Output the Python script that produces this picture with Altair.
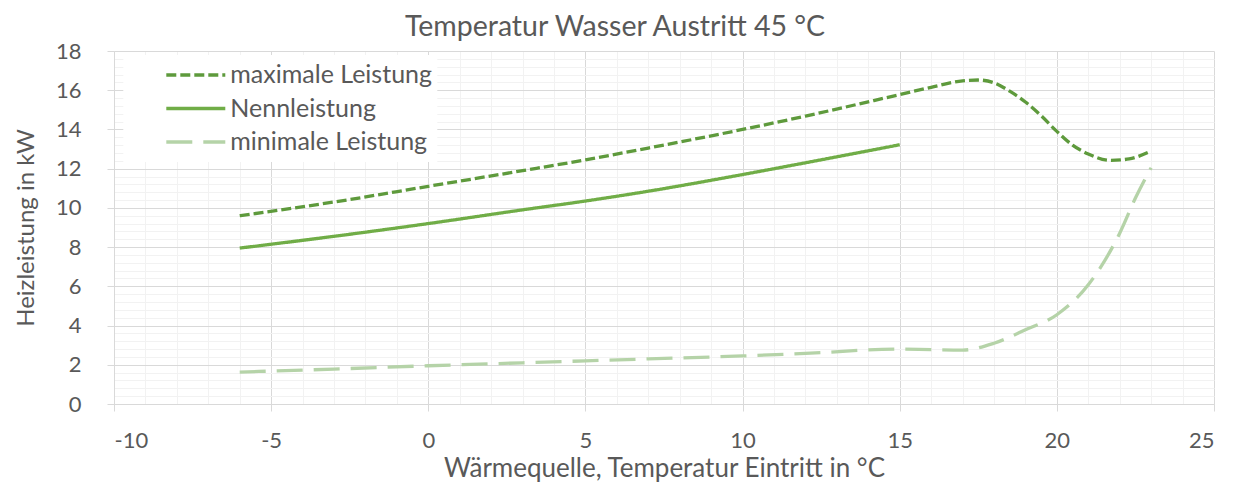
import altair as alt
import pandas as pd

# ---- data ----
max_x = [-6, -3, 0, 3, 5, 7, 10, 12, 15, 16, 17, 17.5, 18, 18.5, 19, 19.5, 20, 20.5, 21, 21.7, 22.3, 23]
max_y = [9.6, 10.3, 11.1, 11.9, 12.45, 13.05, 14.0, 14.68, 15.78, 16.15, 16.48, 16.52, 16.38, 15.95, 15.4, 14.7, 13.9, 13.2, 12.75, 12.42, 12.5, 12.9]

nenn_x = [-6, -3, 0, 3, 5, 7, 10, 12, 15]
nenn_y = [7.95, 8.55, 9.2, 9.9, 10.35, 10.85, 11.7, 12.3, 13.22]

min_x = [-6, -3, 0, 3, 5, 7, 10, 12, 15, 16, 17, 18, 19, 20, 21, 22, 22.5, 23]
min_y = [1.63, 1.78, 1.95, 2.1, 2.2, 2.3, 2.45, 2.58, 2.8, 2.77, 2.75, 3.1, 3.78, 4.55, 6.08, 8.71, 10.5, 12.05]

series_names = ["maximale Leistung", "Nennleistung", "minimale Leistung"]
series_colors = ["#5E9A3C", "#70AD47", "#B5D3A8"]
series_dash = [[10, 4], [1, 0], [26, 11]]

x_ticks = [-10, -5, 0, 5, 10, 15, 20, 25]
y_ticks = [0, 2, 4, 6, 8, 10, 12, 14, 16, 18]
x_minor = list(range(-10, 26))
y_minor = [round(i * 0.4, 1) for i in range(0, 46)]

title_text = "Temperatur Wasser Austritt 45 °C"
x_title = "Wärmequelle, Temperatur Eintritt in °C"
y_title = "Heizleistung in kW"

rows = []
for name, xs, ys in zip(series_names, [max_x, nenn_x, min_x], [max_y, nenn_y, min_y]):
    for xv, yv in zip(xs, ys):
        rows.append({"x": xv, "y": yv, "series": name})
df = pd.DataFrame(rows)

FONT = "Lato"
TXT = "#595959"
xscale = alt.Scale(domain=[-10, 25], nice=False, zero=False)
yscale = alt.Scale(domain=[0, 18], nice=False)

minor = alt.Chart(df).mark_line(opacity=0).encode(
    x=alt.X("x:Q", scale=xscale, axis=alt.Axis(
        orient="bottom", values=x_minor, grid=True, gridColor="#F2F2F2", gridWidth=1,
        labels=False, ticks=False, domain=False, title=None)),
    y=alt.Y("y:Q", scale=yscale, axis=alt.Axis(
        orient="left", values=y_minor, grid=True, gridColor="#F2F2F2", gridWidth=1,
        labels=False, ticks=False, domain=False, title=None)),
)

lines = alt.Chart(df).mark_line(strokeWidth=3.3, interpolate="monotone").encode(
    x=alt.X("x:Q", scale=xscale, axis=alt.Axis(
        orient="bottom", values=x_ticks, grid=True, gridColor="#D9D9D9",
        domainColor="#D9D9D9", tickColor="#D9D9D9", tickSize=7,
        labelExpr="toString(datum.value)",
        labelFont=FONT, labelFontSize=22, labelColor=TXT, labelPadding=19,
        title=x_title, titleFont=FONT, titleFontSize=26, titleColor=TXT,
        titleFontWeight="normal", titlePadding=4)),
    y=alt.Y("y:Q", scale=yscale, axis=alt.Axis(
        orient="left", values=y_ticks, grid=True, gridColor="#D9D9D9",
        domainColor="#D9D9D9", tickColor="#D9D9D9", tickSize=7,
        labelFont=FONT, labelFontSize=22, labelColor=TXT, labelPadding=26,
        title=y_title, titleFont=FONT, titleFontSize=24, titleColor=TXT,
        titleFontWeight="normal", titlePadding=17)),
    color=alt.Color("series:N", scale=alt.Scale(domain=series_names, range=series_colors),
                    legend=alt.Legend(
                        title=None, orient="none", legendX=9.3, legendY=4,
                        fillColor="white", padding=5, symbolOffset=36,
                        symbolType="stroke", symbolSize=3481, symbolStrokeWidth=3.3,
                        clipHeight=30, rowPadding=3.5, labelLimit=400,
                        labelFont=FONT, labelFontSize=25, labelColor=TXT,
                        labelOffset=3)),
    strokeDash=alt.StrokeDash("series:N", scale=alt.Scale(domain=series_names, range=series_dash),
                              legend=None),
    detail="series:N",
)

chart = alt.layer(minor, lines).resolve_axis(x="independent", y="independent").properties(
    width=1100, height=353,
    title=alt.TitleParams(title_text, font=FONT, fontSize=28.5, color=TXT, fontWeight="normal",
                          anchor="middle", dx=-49, offset=0, dy=1),
    autosize=alt.AutoSizeParams(type="none"),
    padding={"left": 106, "top": 43, "right": 19, "bottom": 87},
).configure_view(stroke=None)

chart.save("out.html", embed_options={"renderer": "svg", "actions": False})
